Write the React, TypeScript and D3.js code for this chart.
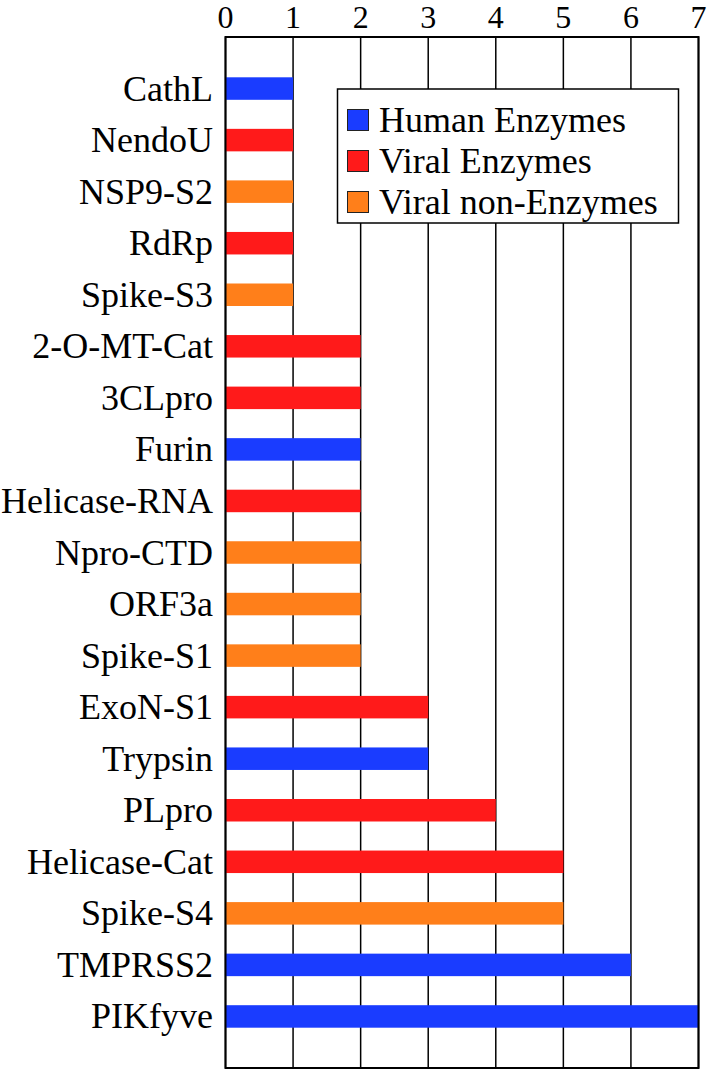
import React from "react";
import * as d3 from "d3";

const categories = [
  "CathL", "NendoU", "NSP9-S2", "RdRp", "Spike-S3", "2-O-MT-Cat", "3CLpro", "Furin",
  "Helicase-RNA", "Npro-CTD", "ORF3a", "Spike-S1", "ExoN-S1", "Trypsin", "PLpro",
  "Helicase-Cat", "Spike-S4", "TMPRSS2", "PIKfyve",
];
const values = [1, 1, 1, 1, 1, 2, 2, 2, 2, 2, 2, 2, 3, 3, 4, 5, 5, 6, 7];
const groups = ["H", "V", "N", "V", "N", "V", "V", "H", "V", "N", "N", "N", "V", "H", "V", "V", "N", "H", "H"];
const groupKeys = ["H", "V", "N"];
const groupLabels = ["Human Enzymes", "Viral Enzymes", "Viral non-Enzymes"];
const groupColors = ["#1a3cff", "#ff1a1a", "#ff7f1a"];
const xTicks = [0, 1, 2, 3, 4, 5, 6, 7];

const W = 708, H = 1072;
const L = 225.5, R = 698.5, T = 37, B = 1068;
const FONT = "'Liberation Serif', 'Times New Roman', serif";
const FS = 36;

export default function App() {
  const x = d3.scaleLinear().domain([0, 7]).range([L, R]);
  const y = d3.scalePoint<string>().domain(categories).range([T, B]).padding(1);
  const color = d3.scaleOrdinal<string, string>().domain(groupKeys).range(groupColors);
  const barH = 22.5;

  const lg = { x: 337.5, y: 89, w: 341, h: 134 };
  const rowY = (i: number) => 120 + i * 41;

  return (
    <div style={{ position: "absolute", left: 0, top: 0 }}>
      <svg width={W} height={H} style={{ display: "block", background: "#fff" }}>
        {xTicks.map((t) => (
          <line key={"g" + t} x1={x(t)} x2={x(t)} y1={T} y2={B} stroke="#000" strokeWidth={1.5} />
        ))}
        {categories.map((c, i) => (
          <rect key={"o" + c} x={x(0)} y={(y(c) as number) - barH / 2} width={x(values[i]) - x(0)} height={barH} fill={color(groups[i])} />
        ))}
        <rect x={L} y={T} width={R - L} height={B - T} fill="none" stroke="#000" strokeWidth={2} />
        {xTicks.map((t) => (
          <text key={"t" + t} x={x(t)} y={28} textAnchor="middle" fontFamily={FONT} fontSize={32}>{t}</text>
        ))}
        {categories.map((c) => (
          <text key={"l" + c} x={213} y={(y(c) as number) + 12} textAnchor="end" fontFamily={FONT} fontSize={FS}>{c}</text>
        ))}
        <rect x={lg.x} y={lg.y} width={lg.w} height={lg.h} fill="#fff" stroke="#000" strokeWidth={1.5} />
        {groupLabels.map((g, i) => (
          <g key={g}>
            <rect x={347.5} y={rowY(i) - 10.5} width={21} height={21} fill={groupColors[i]} stroke="#222" strokeWidth={1} />
            <text x={379} y={rowY(i) + 12} fontFamily={FONT} fontSize={FS}>{g}</text>
          </g>
        ))}
      </svg>
    </div>
  );
}
